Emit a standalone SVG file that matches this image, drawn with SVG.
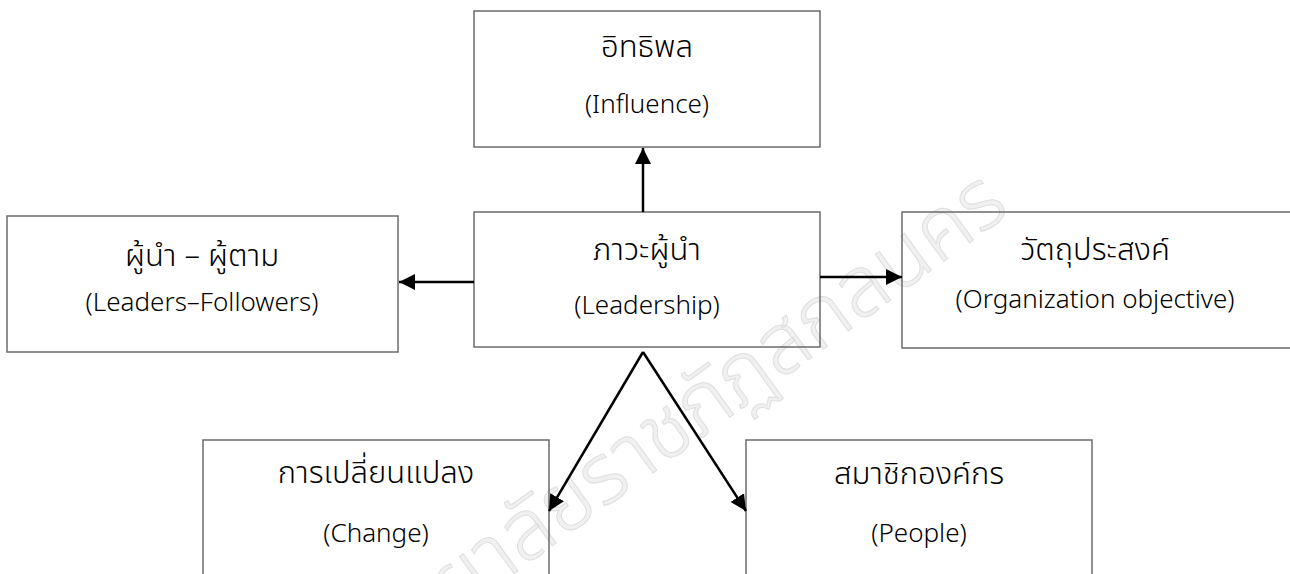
<svg xmlns="http://www.w3.org/2000/svg" width="1290" height="574" viewBox="0 0 1290 574">
  <style>
    .box { fill: none; stroke: #6b6b6b; stroke-width: 1.5; }
    .lbl { font-family: "Noto Sans Thai", "Noto Sans", "DejaVu Sans", sans-serif; font-size: 26px; font-weight: 300; fill: #000; text-anchor: middle; }
    .th { font-size: 31px; }
    .wire { stroke: #000; stroke-width: 2.5; fill: none; marker-end: url(#head); }
    .wm { font-family: "Noto Sans Thai", "Noto Sans", "DejaVu Sans", sans-serif; font-size: 84px; font-weight: 300; fill: #f0f0f0; stroke: #dedede; stroke-width: 1; text-anchor: end; }
  </style>
  <defs>
    <marker id="head" markerUnits="userSpaceOnUse" markerWidth="17" markerHeight="17" refX="16" refY="8.5" orient="auto">
      <path d="M0,0.5 L16,8.5 L0,16.5 z" fill="#000"/>
    </marker>
  </defs>
  <rect width="1290" height="574" fill="#fff"/>

  <!-- background stamp text -->
  <text class="wm" transform="translate(1012,212) rotate(-36)">มหาวิทยาลัยราชภัฏสกลนคร</text>

  <g id="influence">
    <rect class="box" x="474" y="11" width="346" height="136"/>
    <text class="lbl th" x="647" y="57">อิทธิพล</text>
    <text class="lbl" x="647" y="113">(Influence)</text>
  </g>

  <g id="leadership">
    <rect class="box" x="474" y="212" width="346" height="135"/>
    <text class="lbl th" x="647" y="260">ภาวะผู้นำ</text>
    <text class="lbl" x="647" y="314">(Leadership)</text>
  </g>

  <g id="leaders-followers">
    <rect class="box" x="7" y="216" width="391" height="136"/>
    <text class="lbl th" x="202" y="266">ผู้นำ – ผู้ตาม</text>
    <text class="lbl" x="202" y="311">(Leaders–Followers)</text>
  </g>

  <g id="objective">
    <rect class="box" x="902" y="212" width="392" height="136"/>
    <text class="lbl th" x="1095" y="260">วัตถุประสงค์</text>
    <text class="lbl" x="1095" y="308">(Organization objective)</text>
  </g>

  <g id="change">
    <rect class="box" x="203" y="440" width="346" height="150"/>
    <text class="lbl th" x="376" y="483">การเปลี่ยนแปลง</text>
    <text class="lbl" x="376" y="542">(Change)</text>
  </g>

  <g id="people">
    <rect class="box" x="746" y="440" width="346" height="150"/>
    <text class="lbl th" x="919" y="484">สมาชิกองค์กร</text>
    <text class="lbl" x="919" y="542">(People)</text>
  </g>

  <g id="connectors">
    <line class="wire" x1="643" y1="212" x2="643" y2="148"/>
    <line class="wire" x1="474" y1="282" x2="399" y2="282"/>
    <line class="wire" x1="820" y1="277" x2="902" y2="277"/>
    <line class="wire" x1="643" y1="352" x2="549" y2="511"/>
    <line class="wire" x1="643" y1="352" x2="746" y2="511"/>
  </g>
</svg>
